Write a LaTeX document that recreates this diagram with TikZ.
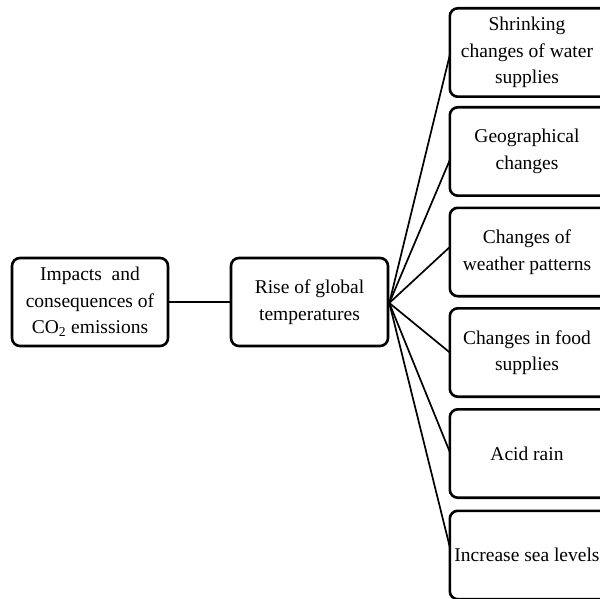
\documentclass[tikz,border=0pt]{standalone}
\usepackage{fontspec}
\setmainfont{Liberation Serif}
\begin{document}
\begin{tikzpicture}[x=1pt,y=-1pt,
  box/.style={draw=black, line width=2.6pt, rounded corners=8pt, fill=white,
    align=center, inner sep=0pt, minimum height=88pt,
    font=\fontsize{19.5}{26.5}\selectfont},
  lbox/.style={box, minimum width=156pt},
  rtext/.style={align=center, inner sep=0pt, minimum height=88pt,
    minimum width=154pt, font=\fontsize{19.5}{26.5}\selectfont},
  rframe/.style={draw=black, line width=2.6pt, rounded corners=8pt},
  link/.style={draw=black, line width=1.7pt}]
\useasboundingbox (0,0) rectangle (600,599);
\clip (0,0) rectangle (600,599);
\node[lbox] (a) at (90,302) {Impacts\ \ and\\consequences of\\CO\textsubscript{2} emissions};
\node[lbox, minimum width=157pt] (b) at (309.5,302) {Rise of global\\temperatures};
\node[rtext] (c1) at (527,52.5) {Shrinking\\changes of water\\supplies};
\node[rtext] (c2) at (527,151.5) {Geographical\\changes};
\node[rtext] (c3) at (527,252) {Changes of\\weather patterns};
\node[rtext] (c4) at (527,352.5) {Changes in food\\supplies};
\node[rtext] (c5) at (527,453.5) {Acid rain};
\node[rtext] (c6) at (527,555) {Increase sea levels};
\foreach \n in {c1,c2,c3,c4,c5,c6}
  \draw[rframe] (\n.south west) rectangle ([xshift=10pt]\n.north east);
\coordinate (o) at ([yshift=-1pt]b.east);
\draw[link] (a.east) -- (b.west);
\draw[link] (o) -- ([yshift=-2.5pt]c1.west);
\draw[link] (o) -- ([yshift=-8.5pt]c2.west);
\draw[link] (o) -- ([yshift=5pt]c3.west);
\draw[link] (o) -- (c4.west);
\draw[link] (o) -- ([yshift=1.5pt]c5.west);
\draw[link] (o) -- ([yshift=8pt]c6.west);
\end{tikzpicture}
\end{document}
